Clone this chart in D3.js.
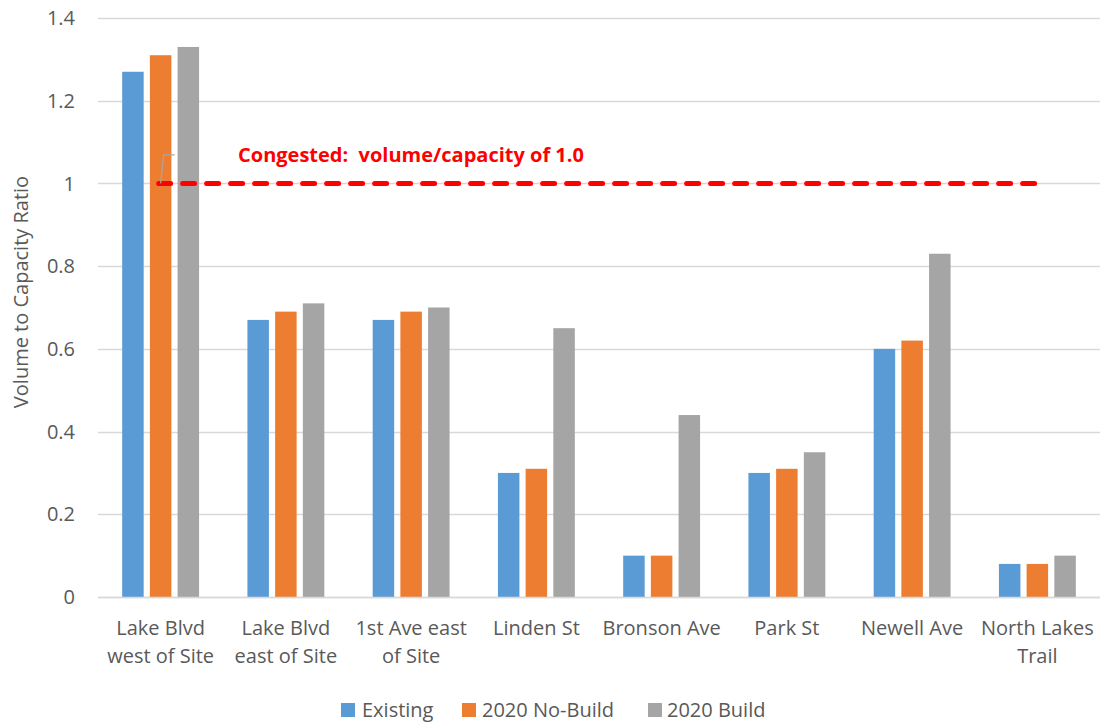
<!DOCTYPE html>
<html>
<head>
<meta charset="utf-8">
<script src="https://cdn.jsdelivr.net/npm/d3@7"></script>
<style>
  html, body { margin: 0; padding: 0; background: #fff; }
  svg { display: block; }
  text { font-family: "Open Sans", "Noto Sans", sans-serif; fill: #595959; }
</style>
</head>
<body>
<svg id="chart" width="1101" height="724"></svg>
<script>
const categories = [
  ["Lake Blvd", "west of Site"],
  ["Lake Blvd", "east of Site"],
  ["1st Ave east", "of Site"],
  ["Linden St"],
  ["Bronson Ave"],
  ["Park St"],
  ["Newell Ave"],
  ["North Lakes", "Trail"]
];
const seriesNames = ["Existing", "2020 No-Build", "2020 Build"];
const existing   = [1.27, 0.67, 0.67, 0.30, 0.10, 0.30, 0.60, 0.08];
const noBuild    = [1.31, 0.69, 0.69, 0.31, 0.10, 0.31, 0.62, 0.08];
const build      = [1.33, 0.71, 0.70, 0.65, 0.44, 0.35, 0.83, 0.10];
const yTicks = [0, 0.2, 0.4, 0.6, 0.8, 1, 1.2, 1.4];
const yTickLabels = ["0", "0.2", "0.4", "0.6", "0.8", "1", "1.2", "1.4"];
const threshold = 1.0;
const thresholdLabel = "Congested:  volume/capacity of 1.0";
const yTitle = "Volume to Capacity Ratio";
const colors = ["#5B9BD5", "#ED7D31", "#A5A5A5"];

const seriesValues = [existing, noBuild, build];
const svg = d3.select("#chart");
const margin = { left: 98, right: 1, top: 18, bottom: 127 };
const W = 1101, H = 724;
const plotL = margin.left, plotR = W - margin.right;
const plotT = margin.top, plotB = H - margin.bottom;

const catKeys = categories.map((c, i) => i);
const x0 = d3.scaleBand().domain(catKeys).range([plotL, plotR]).padding(0);
const groupW = 76.9;
const x1 = d3.scaleBand().domain(seriesNames).range([0, groupW]).paddingInner(0.224).paddingOuter(0);
const y = d3.scaleLinear().domain([0, 1.4]).range([plotB, plotT]);

// gridlines
svg.append("g").selectAll("line").data(yTicks).join("line")
  .attr("x1", plotL).attr("x2", plotR)
  .attr("y1", d => Math.round(y(d)) + 0.5).attr("y2", d => Math.round(y(d)) + 0.5)
  .attr("stroke", "#d9d9d9").attr("stroke-width", 1.3);

// y tick labels
svg.append("g").selectAll("text").data(yTicks).join("text")
  .attr("x", 75).attr("y", d => y(d))
  .attr("dy", "0.36em")
  .attr("text-anchor", "end")
  .style("font-size", "20px")
  .text((d, i) => yTickLabels[i]);

// y title
svg.append("text")
  .attr("transform", `translate(28,292) rotate(-90)`)
  .attr("text-anchor", "middle")
  .style("font-size", "20px")
  .text(yTitle);

// bars
const groups = svg.append("g").selectAll("g").data(catKeys).join("g")
  .attr("transform", d => `translate(${x0(d) + x0.bandwidth() / 2 - groupW / 2},0)`);
groups.selectAll("rect")
  .data(ci => seriesNames.map((s, si) => ({ s, si, v: seriesValues[si][ci] })))
  .join("rect")
  .attr("x", d => x1(d.s))
  .attr("width", x1.bandwidth())
  .attr("y", d => y(d.v))
  .attr("height", d => y(0) - y(d.v))
  .attr("fill", d => colors[d.si]);

// baseline
svg.append("line")
  .attr("x1", plotL).attr("x2", plotR)
  .attr("y1", Math.round(y(0)) + 0.5).attr("y2", Math.round(y(0)) + 0.5)
  .attr("stroke", "#d9d9d9").attr("stroke-width", 1.5);

// category labels
const catG = svg.append("g").selectAll("text").data(categories).join("text")
  .attr("x", (d, i) => x0(i) + x0.bandwidth() / 2)
  .attr("y", 635)
  .attr("text-anchor", "middle")
  .style("font-size", "20px");
catG.selectAll("tspan").data(d => d).join("tspan")
  .attr("x", function () { return d3.select(this.parentNode).attr("x"); })
  .attr("dy", (d, i) => i === 0 ? 0 : 28)
  .text(d => d);

// threshold line
const lineX1 = x0(0) + x0.bandwidth() / 2 - 2;
const lineX2 = x0(categories.length - 1) + x0.bandwidth() / 2;
svg.append("line")
  .attr("x1", lineX1).attr("x2", lineX2)
  .attr("y1", y(threshold)).attr("y2", y(threshold))
  .attr("stroke", "#FF0000").attr("stroke-width", 5)
  .attr("stroke-linecap", "round")
  .attr("stroke-dasharray", "12,12");

// leader line
svg.append("path")
  .attr("d", `M${lineX1 + 2},${y(threshold)} L${lineX1 + 5},${y(threshold) - 28.5} L${lineX1 + 16},${y(threshold) - 28.5}`)
  .attr("fill", "none").attr("stroke", "#A6A6A6").attr("stroke-width", 1.2);

// threshold label
svg.append("text")
  .attr("x", 238).attr("y", y(threshold) - 21)
  .style("font-size", "20px").style("font-weight", "bold")
  .style("fill", "#FF0000")
  .style("white-space", "pre")
  .text(thresholdLabel);

// legend
const legendItems = [
  { name: seriesNames[0], sx: 341, tx: 362 },
  { name: seriesNames[1], sx: 462, tx: 482 },
  { name: seriesNames[2], sx: 648, tx: 667 }
];
const lg = svg.append("g");
legendItems.forEach((it, i) => {
  lg.append("rect").attr("x", it.sx).attr("y", 703).attr("width", 14).attr("height", 14).attr("fill", colors[i]);
  lg.append("text").attr("x", it.tx).attr("y", 717).style("font-size", "20px").text(it.name);
});
</script>
</body>
</html>
